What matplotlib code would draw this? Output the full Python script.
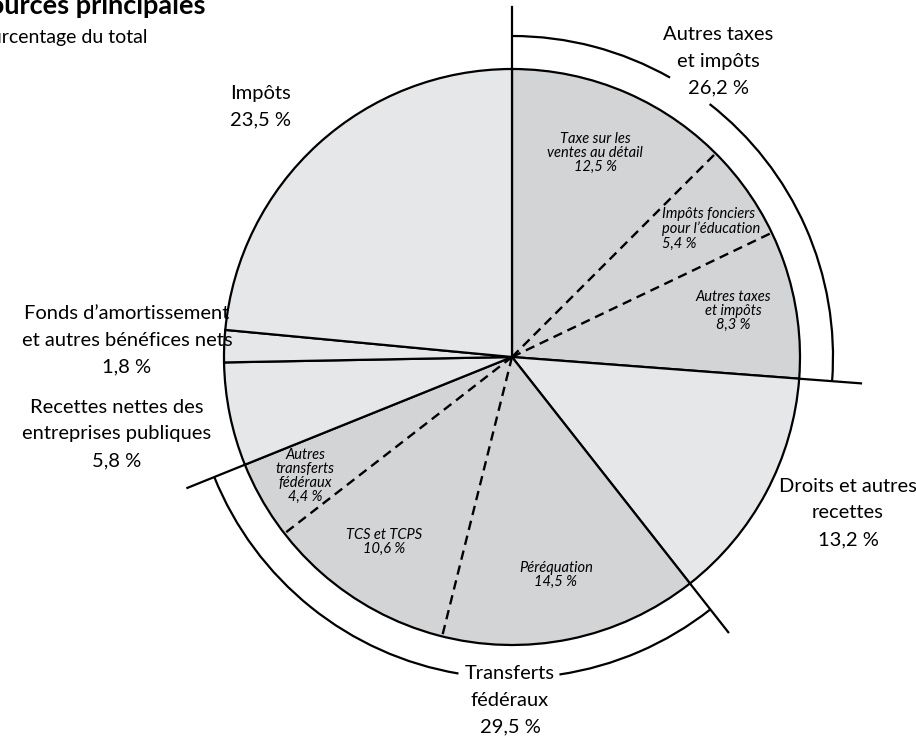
import matplotlib
matplotlib.use("Agg")
import matplotlib.pyplot as plt
from matplotlib.patches import Arc
import numpy as np

plt.rcParams['font.family'] = ['Lato', 'DejaVu Sans']

# ---- data ----
categories = ["Autres taxes\net impôts", "Droits et autres\nrecettes", "Transferts\nfédéraux",
              "Recettes nettes des\nentreprises publiques",
              "Fonds d’amortissement\net autres bénéfices nets", "Impôts"]
values = [26.2, 13.2, 29.5, 5.8, 1.8, 23.5]
shaded = [True, False, True, False, False, False]

autres_sub_labels = ["Taxe sur les\nventes au détail", "Impôts fonciers\npour l’éducation",
                     "Autres taxes\net impôts"]
autres_sub_values = [12.5, 5.4, 8.3]
transf_sub_labels = ["Péréquation", "TCS et TCPS", "Autres\ntransferts\nfédéraux"]
transf_sub_values = [14.5, 10.6, 4.4]

title = "Sources principales"
subtitle = "Pourcentage du total"

# ---- layout ----
W, H = 916, 741
def py(y):
    return H - y

cx, cy = 512, py(357)
R = 288
R_arc = 321
R_ext = 350
dark = "#d3d4d6"
light = "#e6e7e8"

fig = plt.figure(figsize=(W / 100, H / 100), dpi=100)
ax = fig.add_axes([0, 0, 1, 1])

ax.pie(values, startangle=90, counterclock=False, center=(cx, cy), radius=R,
       colors=[dark if s else light for s in shaded],
       wedgeprops=dict(edgecolor="black", linewidth=1.6), frame=True)
ax.set_xlim(0, W)
ax.set_ylim(0, H)
ax.set_aspect('equal', adjustable='box')
ax.axis('off')

def fmt(v):
    return f"{v:.1f}".replace(".", ",") + " %"

# angles (degrees, counterclockwise from +x) of boundaries
cum = np.concatenate([[0], np.cumsum(values)])
bounds = 90 - cum * 3.6

def pt(ang, r):
    a = np.deg2rad(ang)
    return cx + r * np.cos(a), cy + r * np.sin(a)

# dashed sub-boundaries
def sub_bounds(start_ang, subs):
    c = np.cumsum(subs)[:-1]
    return [start_ang - v * 3.6 for v in c]

sub_a = sub_bounds(bounds[0], autres_sub_values)
sub_t = sub_bounds(bounds[2], transf_sub_values)
for ang in sub_a + sub_t:
    x1, y1 = pt(ang, R)
    ax.plot([cx, x1], [cy, y1], color="black", lw=1.7, ls=(0, (4, 2.5)), zorder=5)

# extension lines for grouped slices
for ang in [bounds[0], bounds[1], bounds[2], bounds[3]]:
    x0, y0 = pt(ang, R)
    x1, y1 = pt(ang, R_ext)
    ax.plot([x0, x1], [y0, y1], color="black", lw=1.6, zorder=5)

# outer arcs with gaps for labels
def arc(t1, t2):
    ax.add_patch(Arc((cx, cy), 2 * R_arc, 2 * R_arc, theta1=t1, theta2=t2,
                     color="black", lw=1.6, zorder=5))

arc(60.5, bounds[0])
arc(bounds[1], 52.0)
arc(-81.5, bounds[2])
arc(bounds[3], -99.6)

# ---- main labels ----
main_fs = 14.5
ls_main = 1.68
main_pos = [(718, 61), (848, 513), (510, 700), (117, 434), (127, 340), (260, 107)]
for lab, v, (x, y) in zip(categories, values, main_pos):
    ax.text(x, py(y), lab + "\n" + fmt(v), ha="center", va="center",
            fontsize=main_fs, linespacing=ls_main, zorder=6)

# ---- sub labels ----
sub_fs = 10.5
ls_sub = 1.02
a_pos = [(595, 153, "center"), (662, 229, "left"), (733, 311, "center")]
for lab, v, (x, y, ha) in zip(autres_sub_labels, autres_sub_values, a_pos):
    ax.text(x, py(y), lab + "\n" + fmt(v), ha=ha, va="center", fontsize=sub_fs,
            style="italic", linespacing=ls_sub, ma=ha, zorder=6)
t_pos = [(556, 575), (384, 542), (305, 476)]
for lab, v, (x, y) in zip(transf_sub_labels, transf_sub_values, t_pos):
    ax.text(x, py(y), lab + "\n" + fmt(v), ha="center", va="center", fontsize=sub_fs,
            style="italic", linespacing=ls_sub, zorder=6)

# ---- title (cut off at the left edge as in the reference) ----
ax.text(205, py(14), title, ha="right", va="baseline", fontsize=19.5, fontweight="bold")
ax.text(148, py(43), subtitle, ha="right", va="baseline", fontsize=14)

fig.savefig("out.png", dpi=100)
